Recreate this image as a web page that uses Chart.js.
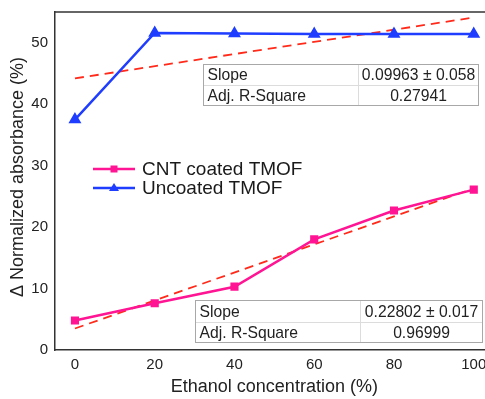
<!DOCTYPE html>
<html>
<head>
<meta charset="utf-8">
<script src="https://cdn.jsdelivr.net/npm/chart.js@4"></script>
<style>
  html, body { margin:0; padding:0; background:#fff; overflow:hidden; }
  #wrap { width:500px; height:399px; }
</style>
</head>
<body>
<div id="wrap"><canvas id="chartEtanol" width="500" height="399"></canvas></div>
<script>
// ethanol concentration (%)
const concentrations = [0, 20, 40, 60, 80, 100];
const cntCoated = [4.8, 7.6, 10.3, 18.0, 22.7, 26.1];
const uncoated = [37.5, 51.6, 51.5, 51.4, 51.4, 51.4];

// linear fits at x = 0 and x = 100
const fitX = [0, 100];
const fitUncoated = [44.2, 54.1];
const fitCnt = [3.5, 26.3];

const xTicks = [0, 20, 40, 60, 80, 100];
const yTicks = [0, 10, 20, 30, 40, 50];

const seriesNames = ["CNT coated TMOF", "Uncoated TMOF"];
const xTitle = "Ethanol concentration (%)";
const yTitle = "\u0394 Normalized absorbance (%)";
const fitTableUncoated = [["Slope", "0.09963 \u00b1 0.058"], ["Adj. R-Square", "0.27941"]];
const fitTableCnt = [["Slope", "0.22802 \u00b1 0.017"], ["Adj. R-Square", "0.96999"]];

const FONT = "'Liberation Sans', Arial, sans-serif";
const PINK = "#ff1493";
const BLUE = "#1f3dff";
const RED = "#ff2a1a";

const pts = (xs, ys) => xs.map((x, i) => ({ x, y: ys[i] }));

function drawTable(ctx, chart, rows, x0, x1, xDiv, yTop, yBot){
  const sx = chart.scales.x, sy = chart.scales.y;
  const l = Math.round(sx.getPixelForValue(x0)) + 0.5, r = Math.round(sx.getPixelForValue(x1)) + 0.5;
  const d = Math.round(sx.getPixelForValue(xDiv)) + 0.5;
  const t = Math.round(sy.getPixelForValue(yTop)) + 0.5, b = Math.round(sy.getPixelForValue(yBot)) + 0.5;
  const mid = Math.round((t + b) / 2) + 0.5;
  ctx.save();
  ctx.fillStyle = "#fff";
  ctx.fillRect(l, t, r - l, b - t);
  ctx.strokeStyle = "#dcdcdc";
  ctx.lineWidth = 1;
  ctx.beginPath();
  ctx.moveTo(l, mid); ctx.lineTo(r, mid);
  ctx.moveTo(d, t); ctx.lineTo(d, b);
  ctx.stroke();
  ctx.strokeStyle = "#a8a8a8";
  ctx.strokeRect(l, t, r - l, b - t);
  ctx.fillStyle = "#222";
  ctx.font = "15.7px " + FONT;
  ctx.textBaseline = "middle";
  rows.forEach((row, i) => {
    const cy = i === 0 ? (t + mid) / 2 : (mid + b) / 2;
    ctx.textAlign = "left";
    ctx.fillText(row[0], l + 4, cy + 1);
    ctx.textAlign = "center";
    ctx.fillText(row[1], (d + r) / 2, cy + 1);
  });
  ctx.restore();
}

const annotations = {
  id: "annotations",
  afterDraw(chart){
    const ctx = chart.ctx;
    const a = chart.chartArea;
    // top frame line
    ctx.save();
    ctx.strokeStyle = "#333";
    ctx.lineWidth = 1.5;
    ctx.beginPath();
    ctx.moveTo(a.left, a.top); ctx.lineTo(a.right + 10, a.top);
    ctx.stroke();
    ctx.restore();

    drawTable(ctx, chart, fitTableUncoated, 32.2, 101, 71, 46.6, 39.9);
    drawTable(ctx, chart, fitTableCnt, 30.2, 102, 71.5, 8.1, 1.3);

    // axis titles
    ctx.save();
    ctx.fillStyle = "#222";
    ctx.font = "18px " + FONT;
    ctx.textAlign = "center";
    ctx.textBaseline = "middle";
    ctx.fillText(xTitle, chart.scales.x.getPixelForValue(50), 387);
    ctx.translate(18, (a.top + a.bottom) / 2 - 4);
    ctx.rotate(-Math.PI / 2);
    ctx.fillText(yTitle, 0, 0);
    ctx.restore();

    // legend
    const items = [
      { label: seriesNames[0], color: PINK, style: "rect", y: 169 },
      { label: seriesNames[1], color: BLUE, style: "triangle", y: 188 }
    ];
    ctx.save();
    items.forEach(it => {
      ctx.strokeStyle = it.color;
      ctx.fillStyle = it.color;
      ctx.lineWidth = 2.5;
      ctx.beginPath();
      ctx.moveTo(93, it.y); ctx.lineTo(135, it.y);
      ctx.stroke();
      ctx.beginPath();
      if(it.style === "rect"){
        ctx.rect(110.5, it.y - 3.5, 7, 7);
      } else {
        ctx.moveTo(114, it.y - 5); ctx.lineTo(119, it.y + 3); ctx.lineTo(109, it.y + 3); ctx.closePath();
      }
      ctx.fill();
      ctx.fillStyle = "#1a1a1a";
      ctx.font = "19px " + FONT;
      ctx.textAlign = "left";
      ctx.textBaseline = "middle";
      ctx.fillText(it.label, 142, it.y + 1);
    });
    ctx.restore();
  }
};

function buildChart(){
  const ctx = document.getElementById("chartEtanol");
  return new Chart(ctx, {
    type: "scatter",
    data: {
      datasets: [
        { label: "fitU", data: pts(fitX, fitUncoated), showLine: true, borderColor: RED, borderWidth: 1.8,
          borderDash: [9, 6], pointRadius: 0, order: 3 },
        { label: "fitC", data: pts(fitX, fitCnt), showLine: true, borderColor: RED, borderWidth: 1.8,
          borderDash: [9, 6], pointRadius: 0, order: 3 },
        { label: seriesNames[1], data: pts(concentrations, uncoated), showLine: true, borderColor: BLUE,
          backgroundColor: BLUE, borderWidth: 2.5, pointStyle: "triangle", pointRadius: 5, order: 1 },
        { label: seriesNames[0], data: pts(concentrations, cntCoated), showLine: true, borderColor: PINK,
          backgroundColor: PINK, borderWidth: 2.5, pointStyle: "rect", pointRadius: 4, order: 2 }
      ]
    },
    options: {
      responsive: false,
      animation: false,
      layout: { padding: { top: 12, right: 0, left: 0, bottom: 0 } },
      plugins: { legend: { display: false }, tooltip: { enabled: false } },
      scales: {
        x: {
          type: "linear", min: -5, max: 104.7,
          afterBuildTicks: s => { s.ticks = xTicks.map(v => ({ value: v })); },
          afterFit: s => { s.height = 49; s.paddingLeft = 0; s.paddingRight = 0; },
          grid: { display: false, drawTicks: false },
          border: { display: true, color: "#333", width: 1.5 },
          ticks: { color: "#222", font: { family: FONT, size: 15 }, padding: 6 }
        },
        y: {
          min: 0, max: 55,
          afterBuildTicks: s => { s.ticks = yTicks.map(v => ({ value: v })); },
          afterFit: s => { s.width = 55; s.paddingTop = 0; s.paddingBottom = 0; },
          grid: { display: false, drawTicks: false },
          border: { display: true, color: "#333", width: 1.5 },
          ticks: { color: "#222", font: { family: FONT, size: 15 }, padding: 7 }
        }
      }
    },
    plugins: [annotations]
  });
}

document.addEventListener("DOMContentLoaded", buildChart);
</script>
</body>
</html>
